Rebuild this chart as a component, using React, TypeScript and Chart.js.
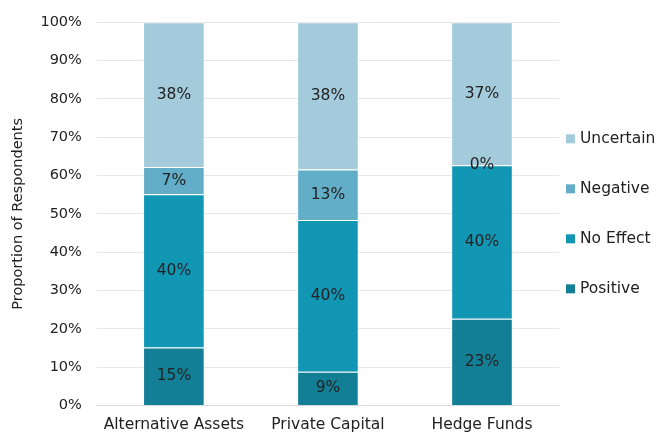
import React, { useEffect, useRef } from "react";
import { Chart, registerables } from "chart.js";

Chart.register(...registerables);

const categories = ["Alternative Assets", "Private Capital", "Hedge Funds"];
const positive = [15.1, 8.75, 22.6];
const noEffect = [40.0, 39.65, 40.1];
const negative = [7.1, 13.2, 0];
const uncertain = [37.8, 38.4, 37.3];
const yTicks = [0, 10, 20, 30, 40, 50, 60, 70, 80, 90, 100];

const FONT = "'DejaVu Sans', sans-serif";
const TEXT = "#222";

const labelPlugin = {
  id: "segLabels",
  afterDatasetsDraw(chart: any) {
    const ctx = chart.ctx;
    ctx.save();
    ctx.font = `15.5px ${FONT}`;
    ctx.fillStyle = TEXT;
    ctx.textAlign = "center";
    ctx.textBaseline = "middle";
    chart.data.datasets.forEach((ds: any, i: number) => {
      const meta = chart.getDatasetMeta(i);
      if (meta.hidden) return;
      meta.data.forEach((el: any, j: number) => {
        const v = ds.data[j];
        const cy = (el.y + el.base) / 2;
        ctx.fillText(Math.round(v) + "%", el.x, cy);
      });
    });
    ctx.restore();
  },
};

const legendPlugin = {
  id: "sideLegend",
  afterDraw(chart: any) {
    const ctx = chart.ctx;
    const area = chart.chartArea;
    const items = chart.data.datasets.map((d: any) => ({ label: d.label, color: d.backgroundColor })).reverse();
    const spacing = 50;
    const midY = (area.top + area.bottom) / 2;
    const startY = midY - ((items.length - 1) * spacing) / 2;
    const boxX = area.right + 7;
    const box = 9;
    ctx.save();
    ctx.font = `15.5px ${FONT}`;
    ctx.textAlign = "left";
    ctx.textBaseline = "middle";
    items.forEach((it: any, k: number) => {
      const y = startY + k * spacing;
      ctx.fillStyle = it.color;
      ctx.fillRect(boxX, y - box / 2, box, box);
      ctx.fillStyle = TEXT;
      ctx.fillText(it.label, boxX + box + 5, y);
    });
    ctx.restore();
  },
};

export default function App() {
  const ref = useRef<HTMLCanvasElement>(null);
  useEffect(() => {
    if (!ref.current) return;
    const border = "rgba(255,255,255,0.45)";
    const chart = new Chart(ref.current, {
      type: "bar",
      data: {
        labels: categories,
        datasets: [
          { label: "Positive", data: positive, backgroundColor: "#137f96", borderColor: border, borderWidth: 1 },
          { label: "No Effect", data: noEffect, backgroundColor: "#1196b4", borderColor: border, borderWidth: 1 },
          { label: "Negative", data: negative, backgroundColor: "#62aec8", borderColor: border, borderWidth: 1 },
          { label: "Uncertain", data: uncertain, backgroundColor: "#a3cbdb", borderColor: border, borderWidth: 1 },
        ],
      },
      options: {
        animation: false,
        responsive: false,
        maintainAspectRatio: false,
        layout: { padding: { top: 20, right: 105, left: 10, bottom: -11 } },
        datasets: { bar: { categoryPercentage: 1, barPercentage: 0.4 } },
        scales: {
          x: {
            stacked: true,
            grid: { display: false, drawTicks: false },
            border: { color: "#d9d9d9" },
            ticks: { color: TEXT, font: { family: FONT, size: 15.5 }, padding: 10, maxRotation: 0 },
          },
          y: {
            stacked: true,
            min: 0,
            max: 100,
            afterBuildTicks: (axis: any) => {
              axis.ticks = yTicks.map((v) => ({ value: v }));
            },
            grid: { color: "#e6e6e6", drawTicks: false },
            border: { display: false },
            ticks: {
              color: TEXT,
              font: { family: FONT, size: 14.5, lineHeight: 1 },
              padding: 15,
              callback: (v: any) => v + "%",
            },
            title: {
              display: true,
              text: "Proportion of Respondents",
              color: TEXT,
              font: { family: FONT, size: 14.5 },
              padding: { top: 0, bottom: -2 },
            },
          },
        },
        plugins: {
          legend: { display: false },
          tooltip: { enabled: false },
        },
      },
      plugins: [labelPlugin, legendPlugin],
    });
    return () => chart.destroy();
  }, []);
  return (
    <div style={{ position: "fixed", left: 0, top: 0, width: 664, height: 433, background: "#fff" }}>
      <canvas ref={ref} width={664} height={433} />
    </div>
  );
}
